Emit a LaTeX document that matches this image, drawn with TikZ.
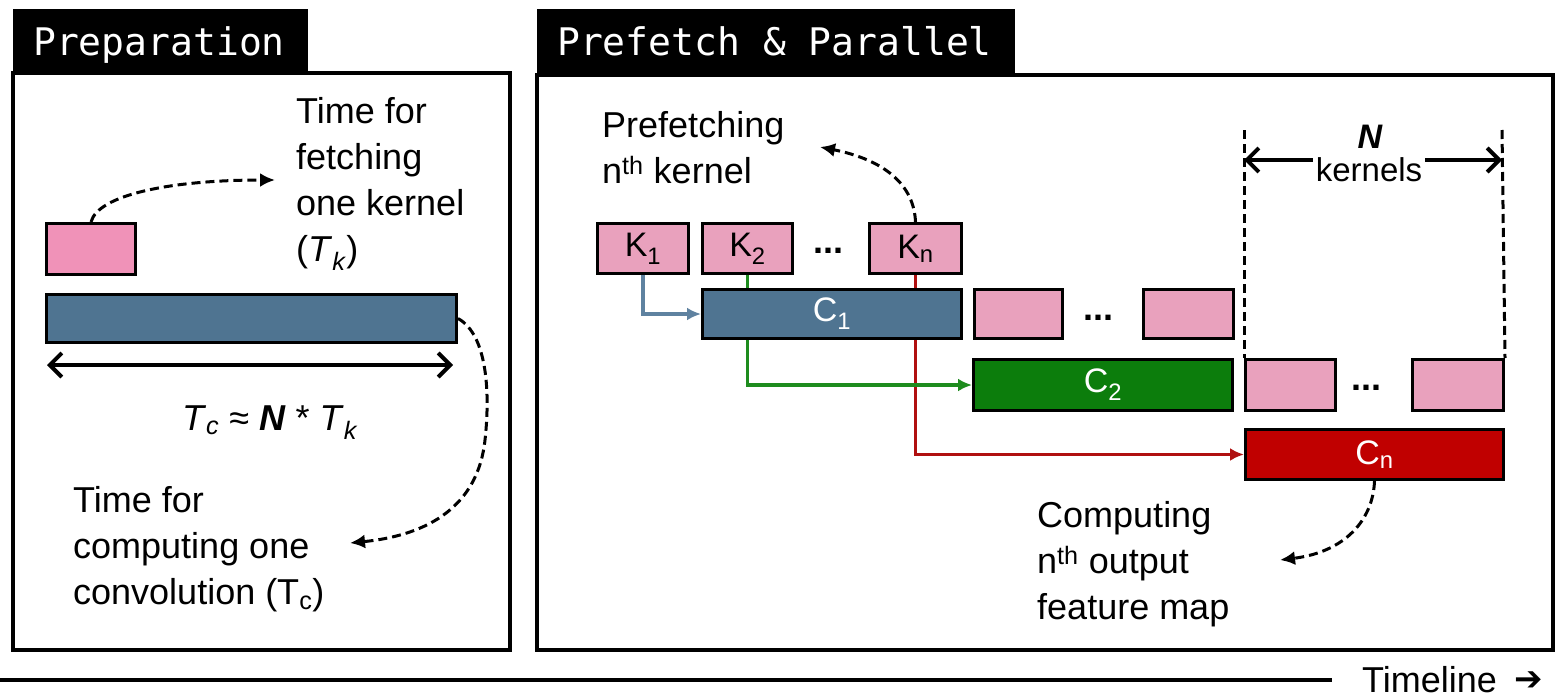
\documentclass[tikz,border=0pt]{standalone}
\usepackage{fontspec}
\setmainfont{Liberation Sans}
\newfontfamily\monofont{DejaVu Sans Mono}
\newfontfamily\symfont{DejaVu Sans}
\usetikzlibrary{arrows.meta}
\pgfdeclarelayer{paper}
\pgfdeclarelayer{wires}
\pgfsetlayers{paper,wires,main}
\definecolor{kpink}{RGB}{233,161,189}
\definecolor{kpinkA}{RGB}{240,146,184}
\definecolor{cblue}{RGB}{79,116,145}
\definecolor{cgreen}{RGB}{12,125,12}
\definecolor{cred}{RGB}{192,0,0}
\definecolor{lblue}{RGB}{95,130,160}
\definecolor{lgreen}{RGB}{30,140,30}
\definecolor{lred}{RGB}{176,16,16}
\tikzset{
  blk/.style={draw=black, line width=3pt, inner sep=0pt, anchor=north west},
  kbox/.style={blk, fill=kpink, font=\fontsize{34}{40}\selectfont},
  cbar/.style={blk, text=white, font=\fontsize{34}{40}\selectfont},
  lbl/.style={inner sep=0pt, font=\fontsize{36}{46}\selectfont, align=left, anchor=north west},
  plain/.style={inner sep=0pt, font=\fontsize{36}{46}\selectfont},
  tabtxt/.style={inner sep=0pt, anchor=base west, text=white, font=\monofont\fontsize{38}{44}\selectfont},
  frame/.style={draw=black, line width=4pt},
  dashlink/.style={dash pattern=on 9pt off 5pt, line width=3pt, -{Latex[length=15pt,width=14pt]}},
  guide/.style={dash pattern=on 9pt off 5pt, line width=3pt},
  span/.style={line width=4pt, {Straight Barb[length=12pt,width=24pt]}-{Straight Barb[length=12pt,width=24pt]}},
  onespan/.style={line width=4pt, -{Straight Barb[length=12pt,width=24pt]}},
  feed/.style={line width=3.2pt, -{Latex[length=14pt,width=13pt]}},
  dots/.style={inner sep=0pt, anchor=base, font=\bfseries\fontsize{36}{40}\selectfont},
}
\begin{document}
\begin{tikzpicture}[x=1pt, y=-1pt]
\begin{pgfonlayer}{paper}
  \fill[white] (0,0) rectangle (1557,699);
\end{pgfonlayer}
\useasboundingbox (0,0) rectangle (1557,699);

% ---- panel frames and title tabs
\fill[black] (13,9) rectangle (308,73);
\draw[frame] (13,73) rectangle (510,650);
\node[tabtxt] (tp) at (33,55) {Preparation};
\fill[black] (537,9) rectangle (1015,75);
\draw[frame] (537,75) rectangle (1553,650);
\node[tabtxt] (tq) at (557,55) {Prefetch \& Parallel};

% ---- preparation panel
\node[kbox, fill=kpinkA, minimum width=89pt, minimum height=51pt] (pk) at (45,222) {};
\node[cbar, fill=cblue, minimum width=410pt, minimum height=48pt] (pb) at (45,293) {};
\coordinate (sl) at (47,365);
\coordinate (sr) at (453,365);
\draw[span] (sl) -- (sr);
\node[plain, anchor=base] (eq) at (270,430)
  {\textit{T}\textsubscript{\textit{c}} ≈ \textbf{\textit{N}} * \textit{T}\textsubscript{\textit{k}}};
\node[lbl] (tf) at (296,97) {Time for\\fetching\\one kernel\\(\textit{T}\textsubscript{\textit{k}})};
\node[lbl] (tc) at (73,486) {Time for\\computing one\\convolution (T\textsubscript{c})};
\coordinate (fa) at (275,180);
\coordinate (ca) at (350,543);
\draw[dashlink] (pk.north) .. controls (98,195) and (170,180) .. (fa);
\draw[dashlink] (pb.east) .. controls (488,335) and (490,395) .. (485,440)
  .. controls (478,505) and (430,535) .. (ca);

% ---- prefetch & parallel panel
\node[kbox, minimum width=91pt, minimum height=50pt] (k1) at (596,222) {K\textsubscript{1}};
\node[kbox, minimum width=90pt, minimum height=50pt] (k2) at (701,222) {K\textsubscript{2}};
\node[dots] (d1) at (828,253) {...};
\node[kbox, minimum width=92pt, minimum height=50pt] (kn) at (868,222) {K\textsubscript{n}};

\node[cbar, fill=cblue, minimum width=259pt, minimum height=49pt] (c1) at (701,288) {C\textsubscript{1}};
\node[kbox, minimum width=88pt, minimum height=49pt] (r2a) at (973,288) {};
\node[dots] (d2) at (1098,320) {...};
\node[kbox, minimum width=90pt, minimum height=49pt] (r2b) at (1142,288) {};

\node[cbar, fill=cgreen, minimum width=259pt, minimum height=51pt] (c2) at (972,358) {C\textsubscript{2}};
\node[kbox, minimum width=90pt, minimum height=51pt] (r3a) at (1244,358) {};
\node[dots] (d3) at (1366,390) {...};
\node[kbox, minimum width=91pt, minimum height=51pt] (r3b) at (1411,358) {};

\node[cbar, fill=cred, minimum width=258pt, minimum height=50pt] (cn) at (1244,428) {C\textsubscript{n}};

% kernel-to-convolution feeds run behind the bars
\begin{pgfonlayer}{wires}
  \draw[feed, lred] (kn.south) |- (cn.west);
  \draw[feed, lgreen] (k2.south) |- (c2.west);
  \draw[feed, lblue] (k1.south) |- (c1.west);
\end{pgfonlayer}

\node[lbl] (pf) at (602,111) {Prefetching\\n\textsuperscript{th} kernel};
\node[lbl] (cf) at (1037,501) {Computing\\n\textsuperscript{th} output\\feature map};
\coordinate (pa) at (820,147);
\coordinate (na) at (1280,560);
\draw[dashlink] (kn.north) .. controls (914,185) and (885,160) .. (pa);
\draw[dashlink] (cn.south) .. controls (1373,520) and (1345,552) .. (na);

% ---- window of N kernels
\coordinate (dl) at (1244,130);
\coordinate (dr) at (1502,130);
\draw[guide] (dl) -- (r3a.north west);
\draw[guide] (dr) -- (r3b.north east);
\node[plain, anchor=base, font=\bfseries\itshape\fontsize{34}{40}\selectfont] (nn) at (1370,148) {N};
\node[plain, anchor=base, inner xsep=3pt, font=\fontsize{33}{40}\selectfont] (kern) at (1369,181) {kernels};
\coordinate (ay) at (0,160);
\draw[onespan] (kern.west |- ay) -- (dl |- ay);
\draw[onespan] (kern.east |- ay) -- (dr |- ay);

% ---- timeline
\coordinate (t0) at (0,680);
\coordinate (t1) at (1332,680);
\draw[line width=4pt] (t0) -- (t1);
\node[plain, anchor=base west] (tl) at (1362,692) {Timeline};
\node[inner sep=0pt, anchor=west, font=\symfont\fontsize{34}{40}\selectfont] (tarr) at (1514,681) {➔};
\end{tikzpicture}
\end{document}
